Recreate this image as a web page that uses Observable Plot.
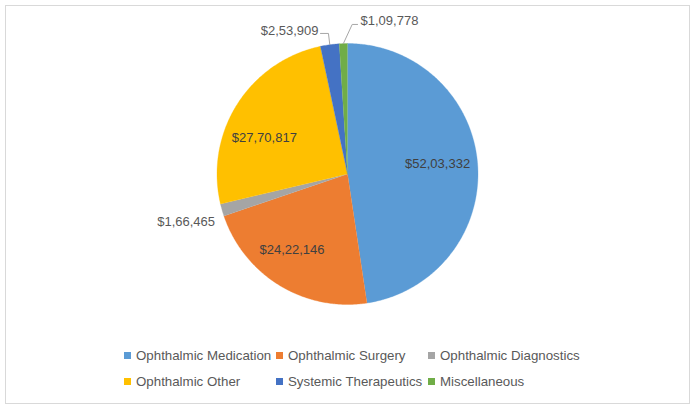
<!DOCTYPE html>
<html>
<head>
<meta charset="utf-8">
<script src="https://cdn.jsdelivr.net/npm/d3@7"></script>
<script src="https://cdn.jsdelivr.net/npm/@observablehq/plot@0.6"></script>
<style>
  html, body { margin: 0; padding: 0; background: #fff; }
  #wrap { position: relative; width: 695px; height: 409px; overflow: hidden; font-family: "Liberation Sans", Arial, sans-serif; }
  #frame { position: absolute; left: 5px; top: 5px; width: 683px; height: 397px; border: 1px solid #d9d9d9; }
  #chart { position: absolute; left: 0; top: 0; }
  #legend { position: absolute; left: 124px; top: 347px; display: grid; grid-template-columns: 152px 152px 152px; row-gap: 10px; font-size: 13.3px; color: #595959; }
  .item { display: flex; align-items: center; height: 16px; white-space: nowrap; }
  .sw { width: 7px; height: 7px; margin-right: 5px; flex: none; }
</style>
</head>
<body>
<div id="wrap">
  <div id="frame"></div>
  <div id="chart"></div>
  <div id="legend"></div>
</div>
<script>
const categories = ["Ophthalmic Medication", "Ophthalmic Surgery", "Ophthalmic Diagnostics", "Ophthalmic Other", "Systemic Therapeutics", "Miscellaneous"];
const values = [5203332, 2422146, 166465, 2770817, 253909, 109778];
const valueLabels = ["$52,03,332", "$24,22,146", "$1,66,465", "$27,70,817", "$2,53,909", "$1,09,778"];
const colors = ["#5B9BD5", "#ED7D31", "#A5A5A5", "#FFC000", "#4472C4", "#70AD47"];

// pie geometry (unit circle, y up)
const arcs = d3.pie().sort(null)(values);
const slicePts = [];
arcs.forEach((a, i) => {
  slicePts.push({cat: categories[i], x: 0, y: 0});
  const n = Math.max(2, Math.ceil((a.endAngle - a.startAngle) / 0.01));
  for (let k = 0; k <= n; k++) {
    const t = a.startAngle + (a.endAngle - a.startAngle) * k / n;
    slicePts.push({cat: categories[i], x: Math.sin(t), y: Math.cos(t)});
  }
});

// label placement (layout only)
const R = 130.5;
const place = [
  {mode: "in", r: 0.7, dx: -1, dy: -3},
  {mode: "in", r: 0.7, dx: -8, dy: -2},
  {mode: "out", r: 1.0, dx: -7, dy: 12},
  {mode: "in", r: 0.7, dx: -6, dy: 13},
  {mode: "lead", elbow: [-0.146, 1.077], end: [-0.207, 1.077], text: [-0.222, 1.10], anchor: "end"},
  {mode: "lead", elbow: [0.036, 1.146], end: [0.077, 1.146], text: [0.10, 1.176], anchor: "start"}
];
const labels = [];
const leaders = [];
arcs.forEach((a, i) => {
  const mid = (a.startAngle + a.endAngle) / 2;
  const p = place[i];
  if (p.mode === "lead") {
    leaders.push({id: i, x: Math.sin(mid), y: Math.cos(mid)});
    leaders.push({id: i, x: p.elbow[0], y: p.elbow[1]});
    leaders.push({id: i, x: p.end[0], y: p.end[1]});
    labels.push({x: p.text[0], y: p.text[1], text: valueLabels[i], anchor: p.anchor, out: true});
  } else {
    labels.push({
      x: Math.sin(mid) * p.r + p.dx / R,
      y: Math.cos(mid) * p.r - p.dy / R,
      text: valueLabels[i],
      anchor: p.mode === "out" ? "end" : "middle",
      out: p.mode === "out"
    });
  }
});

const cx = 347, cy = 173.5;
const fs = 13;
const chart = Plot.plot({
  width: 695,
  height: 340,
  margin: 0,
  style: {fontFamily: "'Liberation Sans', Arial, sans-serif", background: "transparent"},
  x: {domain: [-1, 1], range: [cx - R, cx + R], axis: null},
  y: {domain: [-1, 1], range: [cy + R, cy - R], axis: null},
  color: {domain: categories, range: colors},
  marks: [
    Plot.line(slicePts, {x: "x", y: "y", z: "cat", fill: "cat", stroke: "cat", strokeWidth: 0.3}),
    Plot.line(leaders, {x: "x", y: "y", z: "id", stroke: "#a6a6a6", strokeWidth: 1}),
    Plot.text(labels.filter(d => d.anchor === "middle"), {x: "x", y: "y", text: "text", fill: "#404040", fontSize: fs, textAnchor: "middle"}),
    Plot.text(labels.filter(d => d.anchor === "end"), {x: "x", y: "y", text: "text", fill: "#595959", fontSize: fs, textAnchor: "end"}),
    Plot.text(labels.filter(d => d.anchor === "start"), {x: "x", y: "y", text: "text", fill: "#595959", fontSize: fs, textAnchor: "start"})
  ]
});
document.getElementById("chart").appendChild(chart);

const legend = document.getElementById("legend");
categories.forEach((c, i) => {
  const it = document.createElement("div");
  it.className = "item";
  const sw = document.createElement("span");
  sw.className = "sw";
  sw.style.background = colors[i];
  const tx = document.createElement("span");
  tx.textContent = c;
  it.appendChild(sw);
  it.appendChild(tx);
  legend.appendChild(it);
});
</script>
</body>
</html>
